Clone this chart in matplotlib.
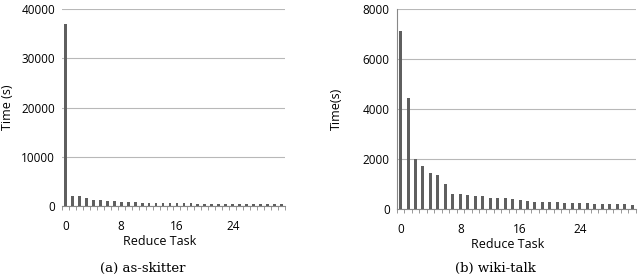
import matplotlib
matplotlib.use("Agg")
import matplotlib.pyplot as plt
import numpy as np

tasks = list(range(32))
skitter = [37000, 2100, 2000, 1650, 1300, 1300, 1000, 950, 800, 800, 750, 700,
           620, 600, 580, 560, 550, 540, 530, 520, 510, 500, 490, 480, 470, 460,
           450, 440, 430, 420, 410, 400]
wiki = [7100, 4450, 2000, 1700, 1430, 1350, 1000, 610, 580, 570, 520, 500,
        450, 440, 420, 380, 370, 300, 290, 280, 270, 260, 250, 240, 230, 220,
        210, 200, 200, 190, 180, 170]
xticks = [0, 8, 16, 24]

plt.rcParams['font.family'] = ['Open Sans', 'DejaVu Sans']

fig = plt.figure(figsize=(6.39, 2.80), dpi=100)
ax1 = fig.add_axes([0.097, 0.264, 0.349, 0.704])
ax2 = fig.add_axes([0.621, 0.254, 0.374, 0.714])

bar_color = '#5f5f5f'
grid_color = '#b8b8b8'

def style(ax, data, ymax, ystep, ylabel, caption, show_yaxis, ylab_x, xlab_x, cap_x):
    ax.bar(tasks, data, width=0.4, color=bar_color, zorder=3)
    ax.set_xlim(-0.5, len(tasks) - 0.5)
    ax.set_ylim(0, ymax)
    ax.set_yticks(np.arange(0, ymax + 1, ystep))
    ax.yaxis.grid(True, color=grid_color, linewidth=0.8, zorder=0)
    ax.set_xticks(xticks)
    ax.set_xticks(np.arange(-0.5, len(tasks), 1.0), minor=True)
    ax.tick_params(axis='x', which='major', length=0, labelsize=8.5, pad=10)
    ax.tick_params(axis='x', which='minor', length=3, color='#888888', direction='out')
    ax.tick_params(axis='y', length=0, labelsize=8.5, pad=5)
    for s in ['top', 'right']:
        ax.spines[s].set_visible(False)
    ax.spines['bottom'].set_color('#888888')
    ax.spines['left'].set_color('#888888')
    ax.spines['left'].set_visible(show_yaxis)
    ax.set_xlabel('Reduce Task', fontsize=9, labelpad=1)
    ax.xaxis.set_label_coords(xlab_x, -0.145)
    ax.set_ylabel(ylabel, fontsize=9)
    ax.yaxis.set_label_coords(ylab_x, 0.5)
    fig.text(cap_x, 0.043, caption, ha='center', va='center',
             fontsize=9.5, family=['DejaVu Serif'])

style(ax1, skitter, 40000, 10000, 'Time (s)', '(a) as-skitter', False, -0.215, 0.44, 143 / 639)
style(ax2, wiki, 8000, 2000, 'Time(s)', '(b) wiki-talk', True, -0.225, 0.464, 495 / 639)

fig.savefig('out.png', dpi=100)
